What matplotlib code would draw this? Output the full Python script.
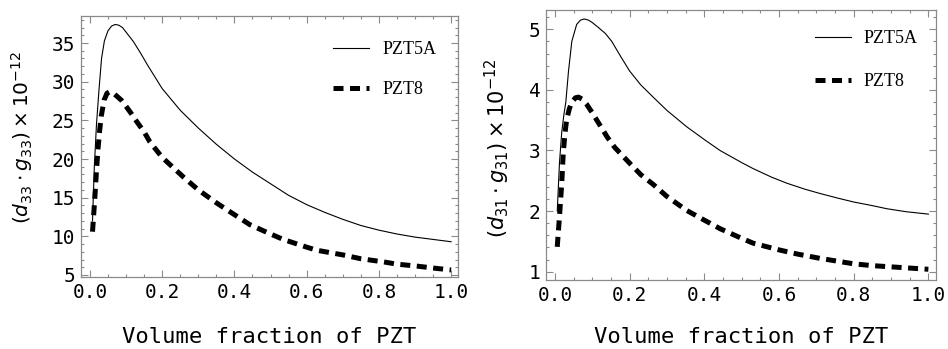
import numpy as np
import matplotlib
matplotlib.use('Agg')
import matplotlib.pyplot as plt
from matplotlib.ticker import MultipleLocator

plt.rcParams['font.family'] = 'DejaVu Sans Mono'
plt.rcParams['mathtext.fontset'] = 'dejavusans'

# left panel: (d33*g33) x 1e-12
x_5a_33 = [0.007, 0.012, 0.018, 0.025, 0.032, 0.040, 0.050, 0.060, 0.070, 0.080, 0.090,
           0.100, 0.120, 0.140, 0.160, 0.180, 0.200, 0.250, 0.300, 0.350, 0.400, 0.450,
           0.500, 0.550, 0.600, 0.650, 0.700, 0.750, 0.800, 0.850, 0.900, 0.950, 1.000]
y_5a_33 = [12.0, 19.0, 24.5, 29.0, 33.0, 35.3, 36.6, 37.2, 37.4, 37.3, 37.0,
           36.4, 35.2, 33.7, 32.1, 30.6, 29.1, 26.3, 24.0, 21.9, 20.0, 18.3,
           16.8, 15.3, 14.1, 13.1, 12.2, 11.4, 10.8, 10.3, 9.9, 9.6, 9.3]

x_8_33 = [0.007, 0.013, 0.018, 0.022, 0.027, 0.031, 0.039, 0.047, 0.055, 0.065, 0.075,
          0.087, 0.100, 0.114, 0.130, 0.150, 0.166, 0.200, 0.258, 0.300, 0.351, 0.400,
          0.443, 0.500, 0.535, 0.600, 0.628, 0.700, 0.750, 0.812, 0.850, 0.905, 0.950, 1.000]
y_8_33 = [10.6, 14.7, 18.5, 21.2, 23.8, 25.5, 27.6, 28.5, 28.7, 28.5, 28.1,
          27.6, 26.8, 25.9, 24.8, 23.5, 22.2, 20.2, 17.7, 16.0, 14.3, 12.8,
          11.5, 10.3, 9.6, 8.6, 8.2, 7.6, 7.1, 6.7, 6.4, 6.15, 5.9, 5.65]

# right panel: (d31*g31) x 1e-12
x_5a_31 = [0.006, 0.012, 0.018, 0.024, 0.029, 0.036, 0.045, 0.058, 0.068, 0.078, 0.090,
           0.100, 0.116, 0.135, 0.152, 0.174, 0.200, 0.230, 0.263, 0.300, 0.353, 0.400,
           0.442, 0.500, 0.531, 0.580, 0.621, 0.670, 0.710, 0.760, 0.800, 0.850, 0.888,
           0.940, 1.000]
y_5a_31 = [2.0, 2.8, 3.3, 3.6, 3.8, 4.3, 4.8, 5.08, 5.15, 5.17, 5.15,
           5.11, 5.03, 4.93, 4.80, 4.57, 4.31, 4.08, 3.88, 3.66, 3.39, 3.18,
           3.0, 2.8, 2.7, 2.56, 2.46, 2.36, 2.29, 2.21, 2.15, 2.09, 2.04,
           1.99, 1.95]

x_8_31 = [0.006, 0.013, 0.018, 0.022, 0.027, 0.031, 0.038, 0.045, 0.055, 0.063, 0.072,
          0.085, 0.100, 0.120, 0.140, 0.160, 0.180, 0.200, 0.230, 0.263, 0.300, 0.353,
          0.400, 0.442, 0.500, 0.531, 0.600, 0.650, 0.710, 0.750, 0.800, 0.850, 0.900,
          0.950, 1.000]
y_8_31 = [1.41, 2.0, 2.45, 2.95, 3.3, 3.5, 3.68, 3.8, 3.87, 3.88, 3.85,
          3.76, 3.62, 3.42, 3.22, 3.05, 2.92, 2.79, 2.6, 2.44, 2.24, 2.01,
          1.85, 1.71, 1.55, 1.47, 1.36, 1.29, 1.22, 1.18, 1.13, 1.10, 1.08,
          1.06, 1.04]

labels = ['PZT5A', 'PZT8']
xticks = [0.0, 0.2, 0.4, 0.6, 0.8, 1.0]


def style_axes(ax, ymajor, yminor):
    for s in ax.spines.values():
        s.set_color('#8a8a8a')
        s.set_linewidth(0.9)
    ax.set_xticks(xticks)
    ax.set_xticklabels([f'{t:.1f}' for t in xticks])
    ax.xaxis.set_minor_locator(MultipleLocator(0.05))
    ax.yaxis.set_major_locator(MultipleLocator(ymajor))
    ax.yaxis.set_minor_locator(MultipleLocator(yminor))
    ax.tick_params(which='both', direction='in', top=True, right=True,
                   color='#8a8a8a', width=0.8)
    ax.tick_params(which='major', length=5, labelsize=14, pad=4)
    ax.tick_params(which='minor', length=2.5)


fig = plt.figure(figsize=(9.48, 3.49), dpi=100)
axL = fig.add_axes([0.0854, 0.2063, 0.3977, 0.748])
axR = fig.add_axes([0.576, 0.1977, 0.4114, 0.774])

dash = dict(color='black', lw=3.6, dashes=(2.0, 1.3), dash_capstyle='butt')

axL.plot(x_5a_33, y_5a_33, color='black', lw=0.8, label=labels[0])
axL.plot(x_8_33, y_8_33, label=labels[1], **dash)
axL.set_xlim(-0.025, 1.019)
axL.set_ylim(4.74, 38.5)
style_axes(axL, 5, 1)
axL.set_ylabel(r'$(d_{33}\cdot g_{33})\times10^{-12}$', fontsize=14.5)
axL.yaxis.set_label_coords(-0.122, 0.533)
axL.set_xlabel('Volume fraction of PZT', fontsize=16)
axL.xaxis.set_label_coords(0.5, -0.19)

axR.plot(x_5a_31, y_5a_31, color='black', lw=0.8, label=labels[0])
axR.plot(x_8_31, y_8_31, label=labels[1], **dash)
axR.set_xlim(-0.024, 1.0206)
axR.set_ylim(0.863, 5.32)
style_axes(axR, 1, 0.2)
axR.set_ylabel(r'$(d_{31}\cdot g_{31})\times10^{-12}$', fontsize=15)
axR.yaxis.set_label_coords(-0.087, 0.49)
axR.set_xlabel('Volume fraction of PZT', fontsize=16)
axR.xaxis.set_label_coords(0.5, -0.175)

axL.legend(loc='upper right', bbox_to_anchor=(0.985, 0.965), frameon=False,
           prop={'family': 'Liberation Serif', 'size': 13},
           handlelength=2.0, handletextpad=0.7, labelspacing=1.25)
axR.legend(loc='upper right', bbox_to_anchor=(0.995, 0.985), frameon=False,
           prop={'family': 'Liberation Serif', 'size': 13},
           handlelength=2.0, handletextpad=0.7, labelspacing=1.45)

plt.savefig('out.png', dpi=100, facecolor='white')
